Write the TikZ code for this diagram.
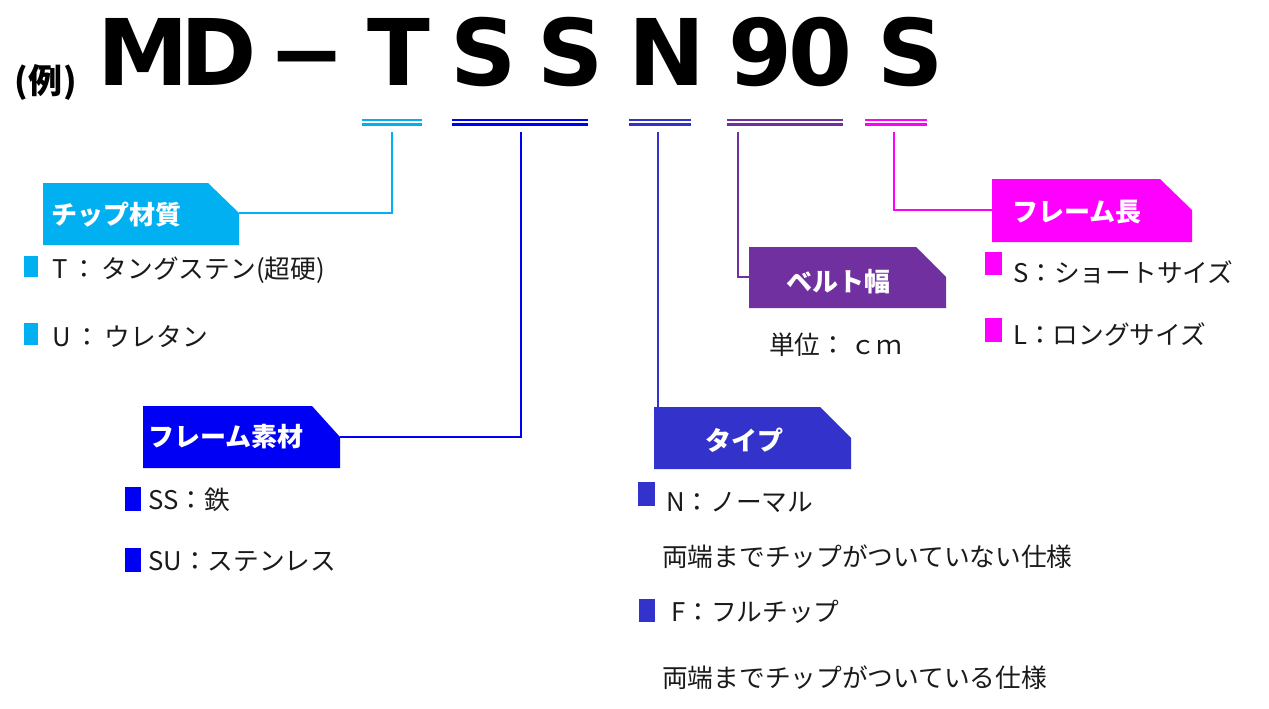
\documentclass[tikz,border=0pt]{standalone}
\usepackage{fontspec}
\setmainfont{Noto Sans CJK JP}
\newfontfamily\titlefont{DejaVu Sans}
\definecolor{cchip}{HTML}{00B0F0}
\definecolor{cmat}{HTML}{0000F5}
\definecolor{ctype}{HTML}{3333CC}
\definecolor{cbelt}{HTML}{7030A0}
\definecolor{clen}{HTML}{FF00FF}
\definecolor{textc}{HTML}{1A1A1A}
\tikzset{
  big/.style={font=\titlefont\bfseries\fontsize{92}{92}\selectfont, anchor=base, inner sep=0pt, text=black},
  uline/.style={line width=2.4pt},
  conn/.style={line width=2pt},
  boxlabel/.style={font=\bfseries\fontsize{26}{26}\selectfont, text=white, inner sep=0pt},
  body/.style={font=\fontsize{25.7}{25.7}\selectfont, text=textc, anchor=west, inner sep=0pt},
}
\begin{document}
\begin{tikzpicture}[x=1pt,y=-1pt]
\useasboundingbox (0,0) rectangle (1269,709);

% title
\node[font=\bfseries\fontsize{34}{34}\selectfont, anchor=base, inner sep=0pt] (rei) at (46,93) {(\kern1pt例\kern1pt)};
\node[big] (tM) at (143.5,85) {M};
\node[big] (tD) at (219,85) {D};
\node[big] (tdash) at (307,85) {−};
\node[big] (tT) at (398.5,85) {T};
\node[big] (tS1) at (483.5,85) {S};
\node[big] (tS2) at (571,85) {S};
\node[big] (tN) at (666.5,85) {N};
\node[big] (t9) at (760,85) {9};
\node[big] (t0) at (820,85) {0};
\node[big] (tS3) at (910.5,85) {S};

% double underlines
\draw[uline,cchip] (362,119.7) -- (422,119.7) (362,124.5) -- (422,124.5);
\draw[uline,cmat] (452,119.7) -- (588,119.7) (452,124.5) -- (588,124.5);
\draw[uline,ctype] (629,119.7) -- (691,119.7) (629,124.5) -- (691,124.5);
\draw[uline,cbelt] (727,119.7) -- (843,119.7) (727,124.5) -- (843,124.5);
\draw[uline,clen] (865,119.7) -- (927,119.7) (865,124.5) -- (927,124.5);

% tag boxes
\fill[cchip] (43,183) -- (208,183) -- (239,213) -- (239,245) -- (43,245) -- cycle;
\fill[cmat] (143,406) -- (312,406) -- (340,437) -- (340,468) -- (143,468) -- cycle;
\fill[ctype] (654,407) -- (820,407) -- (851,438) -- (851,469) -- (654,469) -- cycle;
\fill[cbelt] (749,247) -- (916,247) -- (946,277) -- (946,308) -- (749,308) -- cycle;
\fill[clen] (992,179) -- (1160,179) -- (1192,210) -- (1192,242) -- (992,242) -- cycle;

\node[boxlabel, anchor=west] (chip) at (51,215) {チップ材質};
\node[boxlabel, anchor=west] (mat) at (148,437) {フレーム素材};
\node[boxlabel] (type) at (744,440) {タイプ};
\node[boxlabel] (belt) at (838,282) {ベルト幅};
\node[boxlabel] (len) at (1077,212) {フレーム長};

% connector end points
\coordinate (uT) at (392,132);
\coordinate (uSS) at (521,132);
\coordinate (uN) at (658,132);
\coordinate (u90) at (738,132);
\coordinate (uS) at (894,132);
\coordinate (chipE) at (239,213);
\coordinate (matE) at (340,437);
\coordinate (typeN) at (658,407);
\coordinate (beltW) at (749,277);
\coordinate (lenW) at (992,210);

\draw[conn,cchip] (uT) |- (chipE);
\draw[conn,cmat] (uSS) |- (matE);
\draw[conn,ctype] (uN) -- (typeN);
\draw[conn,cbelt] (u90) |- (beltW);
\draw[conn,clen] (uS) |- (lenW);

% bullets
\fill[cchip] (24,256) rectangle (38,277);
\fill[cchip] (24,323) rectangle (38,345);
\fill[cmat] (125,487) rectangle (141,511);
\fill[cmat] (125,548) rectangle (141,572);
\fill[ctype] (638,482) rectangle (655,506);
\fill[ctype] (639,599) rectangle (655,622);
\fill[clen] (985,252) rectangle (1002,275);
\fill[clen] (985,318) rectangle (1002,342);

% body texts
\node[body] (tT1) at (52,270) {T\,：\,タングステン(超硬)};
\node[body] (tU1) at (52,337) {U\,：\,ウレタン};
\node[body] (tSS) at (148,500) {SS：鉄};
\node[body] (tSU) at (148,562) {SU：ステンレス};
\node[body] (tNn) at (666,502) {N：ノーマル};
\node[body] (dN) at (662,557) {両端までチップがついていない仕様};
\node[body] (tFf) at (671,612) {F：フルチップ};
\node[body] (dF) at (662,678) {両端までチップがついている仕様};
\node[body] (unit) at (769,345) {単位：\,ｃｍ};
\node[body] (tSs) at (1013,272) {S：ショートサイズ};
\node[body] (tLl) at (1013,334) {L：ロングサイズ};
\end{tikzpicture}
\end{document}
